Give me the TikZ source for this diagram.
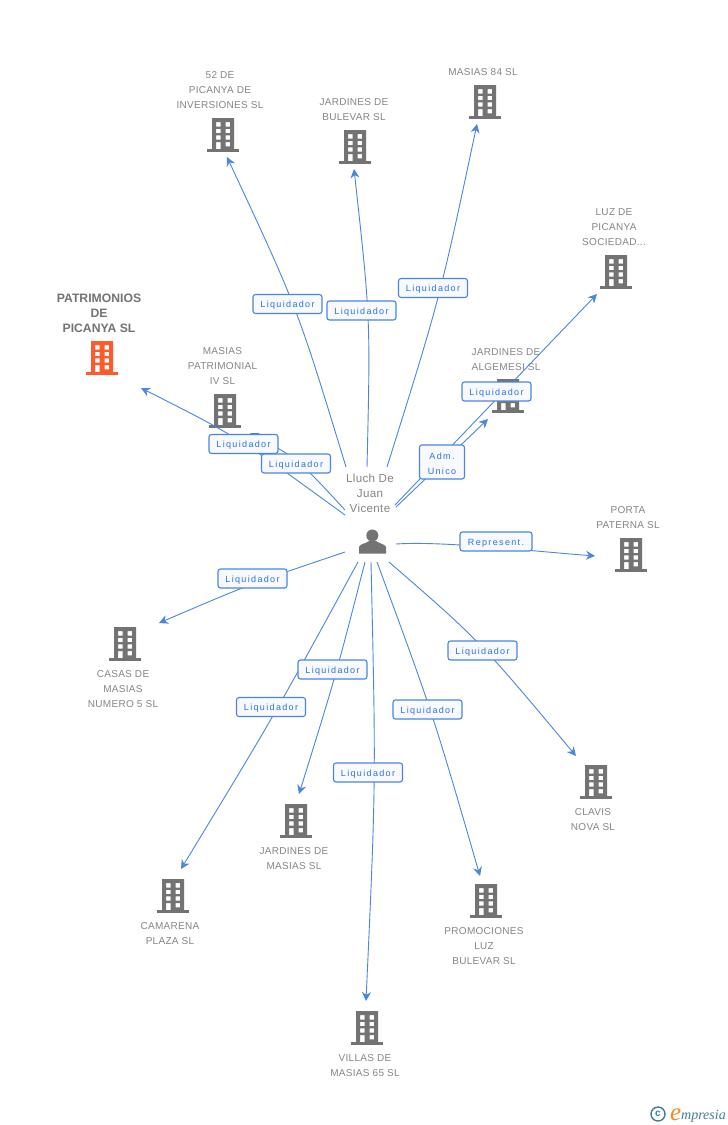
\documentclass[tikz,border=0pt]{standalone}
\usepackage{fontspec}
\setmainfont{Liberation Sans}
\newfontfamily\labfont[LetterSpace=15]{Liberation Sans}
\newfontfamily\namefont[LetterSpace=3]{Liberation Sans}
\newfontfamily\logofont{Liberation Serif}
\usetikzlibrary{arrows.meta}
\definecolor{linkblue}{HTML}{4A86E0}
\definecolor{labelblue}{HTML}{2B73D9}
\definecolor{labelfill}{HTML}{F8F9FC}
\definecolor{grayicon}{HTML}{737373}
\definecolor{grayname}{HTML}{858585}
\definecolor{orangeicon}{HTML}{FF5A2B}
\definecolor{logoteal}{HTML}{3F7F93}
\definecolor{logoorange}{HTML}{F5871F}
\tikzset{
  x=1pt,y=-1pt,
  conn/.style={draw=linkblue,line width=0.9pt},
  arr/.style={conn,-{Stealth[length=9pt,width=9pt]}},
  rolebox/.style={draw=linkblue,line width=1.1pt,fill=labelfill,rounded corners=2.5pt,
    minimum width=69pt,minimum height=19pt,inner sep=0pt,text=labelblue,
    text height=7.6pt,text depth=0pt,
    font=\labfont\fontsize{9}{15}\selectfont},
  namebox/.style={text=grayname,align=center,inner sep=0pt,yshift=-1pt,font=\namefont\fontsize{10}{15}\selectfont},
  mainname/.style={text=grayicon,align=center,inner sep=0pt,yshift=-1pt,font=\bfseries\fontsize{12.2}{15}\selectfont},
  pics/tower/.style={code={
    \fill[#1,even odd rule] (-11,0) rectangle (11,31)
      (-7,4) rectangle (-2.3,8.5) (2.5,4) rectangle (7.2,8.5)
      (-7,10.8) rectangle (-2.3,15) (2.5,10.8) rectangle (7.2,15)
      (-7,17.3) rectangle (-2.3,21.5) (2.5,17.3) rectangle (7.2,21.5)
      (-7,24) rectangle (-2.3,31) (2.5,24) rectangle (7.2,28.3);
    \fill[#1] (-16,31) rectangle (16,34);
  }},
}
\begin{document}
\begin{tikzpicture}
\path[use as bounding box,fill=white] (0,0) rectangle (728,1125);

% company icons
\pic (i0) at (102,341) {tower=orangeicon};
\pic (i1) at (223,118) {tower=grayicon};
\pic (i2) at (355,130) {tower=grayicon};
\pic (i3) at (485,85) {tower=grayicon};
\pic (i4) at (616,255) {tower=grayicon};
\pic (i5) at (225,394) {tower=grayicon};
\pic (i6) at (508,379) {tower=grayicon};
\pic (i7) at (631,538) {tower=grayicon};
\pic (i8) at (125,627) {tower=grayicon};
\pic (i9) at (296,804) {tower=grayicon};
\pic (i10) at (173,879) {tower=grayicon};
\pic (i11) at (367,1011) {tower=grayicon};
\pic (i12) at (486,884) {tower=grayicon};
\pic (i13) at (596,765) {tower=grayicon};

% company names
\node[mainname] (n0) at (99,312) {PATRIMONIOS\\DE\\PICANYA SL};
\node[namebox] (n1) at (220,89) {52 DE\\PICANYA DE\\INVERSIONES SL};
\node[namebox] (n2) at (354,108.5) {JARDINES DE\\BULEVAR SL};
\node[namebox] (n3) at (483,71) {MASIAS 84 SL};
\node[namebox] (n4) at (614,226) {LUZ DE\\PICANYA\\SOCIEDAD...};
\node[namebox] (n5) at (222.5,365) {MASIAS\\PATRIMONIAL\\IV SL};
\node[namebox] (n6) at (506,358.5) {JARDINES DE\\ALGEMESI SL};
\node[namebox] (n7) at (628,516.5) {PORTA\\PATERNA SL};
\node[namebox] (n8) at (123,688) {CASAS DE\\MASIAS\\NUMERO 5 SL};
\node[namebox] (n9) at (294,857.5) {JARDINES DE\\MASIAS SL};
\node[namebox] (n10) at (170,932.5) {CAMARENA\\PLAZA SL};
\node[namebox] (n11) at (365,1064.5) {VILLAS DE\\MASIAS 65 SL};
\node[namebox] (n12) at (484,945) {PROMOCIONES\\LUZ\\BULEVAR SL};
\node[namebox] (n13) at (593,818.5) {CLAVIS\\NOVA SL};

% person
\node[text=grayname,align=center,inner sep=0pt,font=\namefont\fontsize{11.6}{15}\selectfont] (person) at (370,493.5) {Lluch De\\Juan\\Vicente};
\fill[grayicon] (372.3,535.5) circle (6);
\fill[grayicon] (359,553.5) -- (359,547) .. controls (359.5,544) and (366,543.5) .. (369,541)
  -- (376,541) .. controls (379,543.5) and (385,544) .. (386,547) -- (386,553.5) -- cycle;

% connector ends
\coordinate (s0) at (345,515);   \coordinate (e0) at (141,388);
\coordinate (s5) at (345,510);   \coordinate (e5) at (250,433);
\coordinate (s1) at (346,467);   \coordinate (e1) at (227,157);
\coordinate (s2) at (367,467);   \coordinate (e2) at (354,169);
\coordinate (s3) at (387,467);   \coordinate (e3) at (477,124);
\coordinate (s4) at (395,505);   \coordinate (e4) at (597,294);
\coordinate (s6) at (396,507);   \coordinate (e6) at (488,419);
\coordinate (s7) at (396,544);   \coordinate (e7) at (595,556);
\coordinate (s8) at (345,552);   \coordinate (e8) at (159,623);
\coordinate (s9) at (365,562);   \coordinate (e9) at (299,794);
\coordinate (s10) at (358,562);  \coordinate (e10) at (181,869);
\coordinate (s11) at (371,562);  \coordinate (e11) at (366,1001);
\coordinate (s12) at (377,562);  \coordinate (e12) at (480,876);
\coordinate (s13) at (389,562);  \coordinate (e13) at (576,756);

% connectors
\draw[arr] (s0) .. controls (237,436.5) .. (e0);
\draw[arr] (s5) .. controls (297.5,458.5) .. (e5);
\draw[arr] (s1) .. controls (297.5,308) .. (e1);
\draw[arr] (s2) .. controls (370.5,318) .. (e2);
\draw[arr] (s3) .. controls (440,298) .. (e3);
\draw[arr] (s4) -- (e4);
\draw[arr] (s6) -- (e6);
\draw[arr] (s7) .. controls (440,541) and (520,550) .. (e7);
\draw[arr] (s8) .. controls (250,584) .. (e8);
\draw[arr] (s9) .. controls (336,675) .. (e9);
\draw[arr] (s10) .. controls (274,716) .. (e10);
\draw[arr] (s11) .. controls (376,781) .. (e11);
\draw[arr] (s12) .. controls (433,714) .. (e12);
\draw[arr] (s13) .. controls (480,641) .. (e13);

% role labels
\node[rolebox] (r1) at (287.5,304) {Liquidador};
\node[rolebox] (r2) at (361.5,310.5) {Liquidador};
\node[rolebox] (r3) at (433,288) {Liquidador};
\node[rolebox] (r4) at (496.5,391.5) {Liquidador};
\node[rolebox] (r5) at (243.5,444) {Liquidador};
\node[rolebox] (r0) at (296,463.5) {Liquidador};
\node[rolebox,minimum width=45pt,minimum height=34pt,align=center,
  text height=,text depth=] (r6) at (442,462) {\rule{0pt}{9.5pt}Adm.\\Unico};
\node[rolebox,minimum width=72pt] (r7) at (496,541.5) {Represent.};
\node[rolebox] (r8) at (252.5,578.5) {Liquidador};
\node[rolebox] (r9) at (332.5,669.5) {Liquidador};
\node[rolebox] (r10) at (271,707) {Liquidador};
\node[rolebox] (r11) at (368,772.5) {Liquidador};
\node[rolebox] (r12) at (427.5,709.5) {Liquidador};
\node[rolebox] (r13) at (482.5,650.5) {Liquidador};

% logo
\node[circle,draw=logoteal,line width=1.4pt,minimum size=14pt,inner sep=0pt,text=logoteal,
  font=\fontsize{10}{10}\selectfont\bfseries] (copy) at (658,1114) {c};
\node[anchor=base west,inner sep=0pt,text=logoorange,font=\logofont\itshape\fontsize{25}{25}\selectfont] (logoe) at (670,1120) {e};
\node[anchor=base west,inner sep=0pt,text=logoteal,font=\logofont\itshape\fontsize{14}{14}\selectfont] (logot) at (681,1119) {mpresia};
\end{tikzpicture}
\end{document}
